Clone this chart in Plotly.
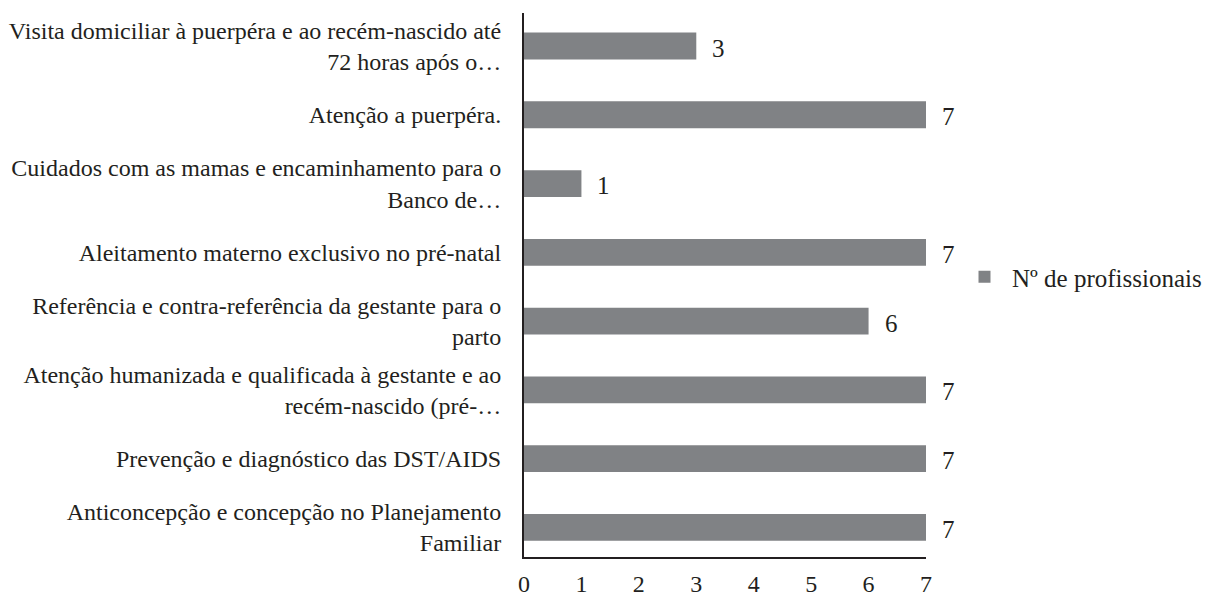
import plotly.graph_objects as go

categories = [
    "Visita domiciliar à puerpéra e ao recém-nascido até<br>72 horas após o…",
    "Atenção a puerpéra.",
    "Cuidados com as mamas e encaminhamento para o<br>Banco de…",
    "Aleitamento materno exclusivo no pré-natal",
    "Referência e contra-referência da gestante para o<br>parto",
    "Atenção humanizada e qualificada à gestante e ao<br>recém-nascido (pré-…",
    "Prevenção e diagnóstico das DST/AIDS",
    "Anticoncepção e concepção no Planejamento<br>Familiar",
]
values = [3, 7, 1, 7, 6, 7, 7, 7]
series_name = "Nº de profissionais"
x_ticks = [0, 1, 2, 3, 4, 5, 6, 7]

FONT = "'Liberation Serif', 'Times New Roman', serif"
TXT = "#231F20"
BAR = "#808285"

W, H = 1206, 588  # page body keeps an 8px margin

fig = go.Figure()
fig.add_trace(go.Bar(
    y=categories, x=values, orientation="h", name=series_name,
    marker=dict(color=BAR, line=dict(width=0)), width=0.39,
    hoverinfo="x+y", showlegend=True,
))

for c, v in zip(categories, values):
    fig.add_annotation(x=v, y=c, text=str(v), showarrow=False,
                       xanchor="left", yanchor="middle", xshift=14, yshift=-2,
                       font=dict(family=FONT, size=25, color=TXT))

fig.update_layout(
    width=W, height=H,
    margin=dict(l=516, r=288, t=4.7, b=39.3, pad=0, autoexpand=False),
    paper_bgcolor="white", plot_bgcolor="white",
    font=dict(family=FONT, size=24, color=TXT),
    legend=dict(xref="container", yref="container",
                x=949 / W, xanchor="left", y=1 - 269 / H, yanchor="middle",
                itemwidth=45, font=dict(family=FONT, size=25, color=TXT),
                bgcolor="rgba(0,0,0,0)"),
    xaxis=dict(range=[0, 7], tickvals=x_ticks, ticktext=[str(t) for t in x_ticks],
               showgrid=False, zeroline=False, showline=True, linecolor=TXT,
               linewidth=2, ticks="", ticklabelstandoff=4, automargin=False,
               tickfont=dict(family=FONT, size=24, color=TXT), fixedrange=True),
    yaxis=dict(categoryorder="array", categoryarray=categories,
               range=[7.43, -0.48], showgrid=False, zeroline=False,
               showline=True, linecolor=TXT, linewidth=2, ticks="",
               ticklabelstandoff=16, automargin=False,
               tickfont=dict(family=FONT, size=24, color=TXT), fixedrange=True),
    bargap=0.61,
)

fig.write_html("out.html")
